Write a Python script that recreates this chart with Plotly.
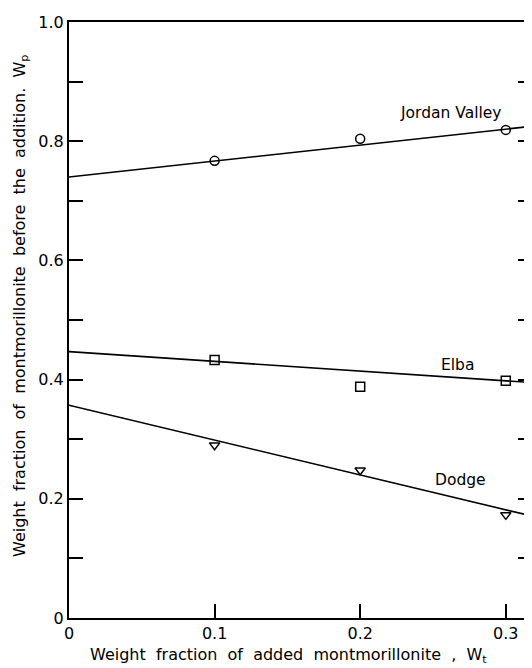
import plotly.graph_objects as go

# Measured points
x_pts = [0.1, 0.2, 0.3]
jordan_y = [0.767, 0.804, 0.819]
elba_y = [0.433, 0.388, 0.398]
dodge_y = [0.290, 0.248, 0.173]

# Fitted straight lines (end points)
line_x = [0.0, 0.318]
jordan_line = [0.740, 0.825]
elba_line = [0.447, 0.395]
dodge_line = [0.357, 0.171]

x_ticks = [0, 0.1, 0.2, 0.3]
x_ticktext = ["0", "0.1", "0.2", "0.3"]
y_ticks = [0, 0.2, 0.4, 0.6, 0.8, 1.0]
y_ticktext = ["0", "0.2", "0.4", "0.6", "0.8", "1.0"]

labels = ["Jordan Valley", "Elba", "Dodge"]
label_x = [0.262, 0.267, 0.269]
label_y = [0.847, 0.424, 0.232]

x_title = "Weight  fraction  of  added  montmorillonite  ,  W<sub>t</sub>"
y_title = "Weight  fraction  of  montmorillonite  before  the  addition.  W<sub>p</sub>"

FONT = "DejaVu Sans"
fig = go.Figure()
for ly in [jordan_line, elba_line, dodge_line]:
    fig.add_trace(go.Scatter(x=line_x, y=ly, mode="lines",
                             line=dict(color="black", width=1.6), showlegend=False,
                             hoverinfo="skip"))
for ys, sym in [(jordan_y, "circle-open"), (elba_y, "square-open"), (dodge_y, "triangle-down-open")]:
    fig.add_trace(go.Scatter(x=x_pts, y=ys, mode="markers",
                             marker=dict(symbol=sym, size=9, color="black",
                                         line=dict(color="black", width=1.5)),
                             showlegend=False))

for t, lx, ly in zip(labels, label_x, label_y):
    fig.add_annotation(x=lx, y=ly, text=t, showarrow=False,
                       font=dict(family=FONT, size=15.5, color="black"))

# Axis titles placed as annotations for exact positioning
fig.add_annotation(x=0.151, y=0, xref="x", yref="paper", yshift=-37,
                   xanchor="center", yanchor="middle",
                   text=x_title, showarrow=False,
                   font=dict(family=FONT, size=16, color="black"))
fig.add_annotation(x=0, y=0.5, xref="paper", yref="paper", xshift=-49, yshift=14,
                   xanchor="center", yanchor="middle",
                   text=y_title, textangle=-90, showarrow=False,
                   font=dict(family=FONT, size=16, color="black"))

# The page body adds an 8px margin, so the figure is sized and offset for it.
fig.update_layout(
    width=524, height=660,
    margin=dict(l=61, r=0, t=14, b=50, autoexpand=False),
    paper_bgcolor="white", plot_bgcolor="white",
    font=dict(family=FONT, color="black"),
    xaxis=dict(range=[0, 0.318], tickvals=x_ticks, ticktext=x_ticktext,
               ticks="inside", ticklen=14, tickwidth=1.5, tickcolor="black",
               showline=True, linecolor="black", linewidth=2, mirror=True,
               showgrid=False, zeroline=False, automargin=False,
               tickfont=dict(family=FONT, size=16)),
    yaxis=dict(range=[0, 1.0], tickvals=y_ticks, ticktext=y_ticktext,
               ticks="inside", ticklen=14, tickwidth=1.5, tickcolor="black",
               showline=True, linecolor="black", linewidth=2, mirror="allticks",
               minor=dict(dtick=0.1, ticks="inside", ticklen=14, tickwidth=1.5, tickcolor="black", showgrid=False),
               showgrid=False, zeroline=False, automargin=False,
               tickfont=dict(family=FONT, size=16)),
)

fig.write_html("out.html")
